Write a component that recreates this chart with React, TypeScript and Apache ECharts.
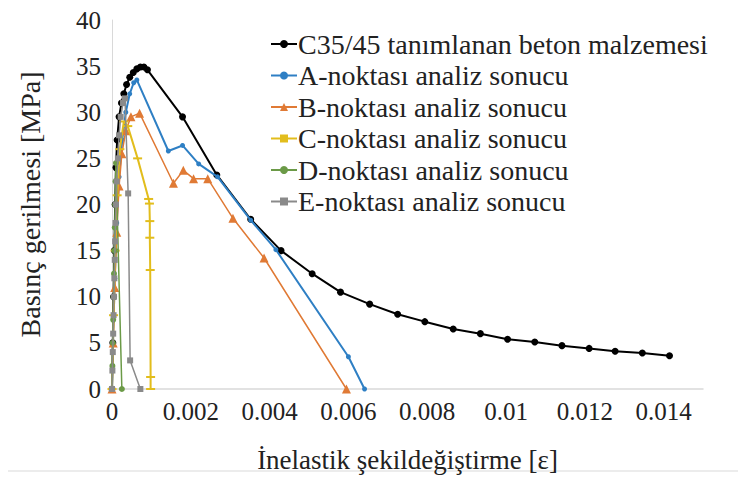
import React, { useEffect, useRef } from "react";
import * as echarts from "echarts";

const seriesNames = [
  "C35/45 tanımlanan beton malzemesi",
  "A-noktası analiz sonucu",
  "B-noktası analiz sonucu",
  "C-noktası analiz sonucu",
  "D-noktası analiz sonucu",
  "E-noktası analiz sonucu",
];

const betonStrain = [0, 0.00002, 0.00004, 0.00006, 0.00008, 0.0001, 0.00013, 0.00018, 0.00024, 0.0003, 0.00037, 0.00045, 0.00054, 0.00063, 0.00072, 0.00081, 0.0009, 0.00179, 0.00266, 0.00352, 0.00429, 0.00508, 0.0058, 0.00654, 0.00725, 0.00794, 0.00866, 0.00935, 0.01004, 0.01073, 0.01142, 0.01211, 0.01277, 0.01346, 0.01415];
const betonStress = [0, 5, 10, 15, 20, 24, 27, 29.5, 31, 32, 33, 33.8, 34.3, 34.7, 34.9, 34.9, 34.6, 29.5, 23.2, 18.4, 15.0, 12.5, 10.5, 9.2, 8.1, 7.3, 6.5, 6.0, 5.4, 5.1, 4.7, 4.4, 4.1, 3.9, 3.6];

const aStrain = [0, 0.00003, 0.00007, 0.00012, 0.00018, 0.00026, 0.00035, 0.00045, 0.00055, 0.00063, 0.00143, 0.00179, 0.0022, 0.00268, 0.00352, 0.00416, 0.006, 0.00641];
const aStress = [0, 6, 12, 18, 23, 27, 30, 32, 33.2, 33.5, 25.8, 26.4, 24.4, 23.0, 18.3, 15.1, 3.5, 0];

const bStrain = [0, 0.00003, 0.00007, 0.00012, 0.00018, 0.00025, 0.00035, 0.00048, 0.0007, 0.00156, 0.00181, 0.00207, 0.00243, 0.00307, 0.00386, 0.00595];
const bStress = [0, 5, 11, 17, 22, 25.5, 28, 29.5, 29.9, 22.3, 23.7, 22.8, 22.8, 18.5, 14.2, 0];

const cStrain = [0, 0.00004, 0.00008, 0.00013, 0.0002, 0.0003, 0.0004, 0.00065, 0.00093, 0.00095, 0.00096, 0.00096, 0.00097, 0.00098, 0.00098];
const cStress = [0, 8, 15, 21, 26, 29, 28.5, 25, 20.6, 20.1, 18.2, 16.4, 12.9, 1.3, 0];

const dStrain = [0, 0.00001, 0.00002, 0.00003, 0.00004, 0.00005, 0.00006, 0.00007, 0.00008, 0.00009, 0.0001, 0.00025];
const dStress = [0, 2.5, 5, 7.5, 10, 12.5, 15, 17.5, 20, 22.5, 24.5, 0];

const eStrain = [0, 0.00001, 0.00002, 0.00003, 0.00004, 0.00005, 0.00006, 0.00007, 0.00008, 0.00009, 0.0001, 0.00012, 0.00015, 0.00018, 0.00022, 0.00028, 0.00033, 0.00041, 0.00046, 0.00072];
const eStress = [0, 2, 4, 6, 8, 10, 12, 14, 16, 18, 20, 22.5, 25, 27.5, 29.5, 31, 31.5, 21.2, 3.1, 0];

const yTitle = "Basınç gerilmesi [MPa]";
const xTitle = "İnelastik şekildeğiştirme [ε]";

const zip = (xs: number[], ys: number[]) => xs.map((x, i) => [x, ys[i]]);

const FONT = "'Liberation Serif', 'Times New Roman', serif";

export default function App() {
  const ref = useRef<HTMLDivElement>(null);
  useEffect(() => {
    if (!ref.current) return;
    const chart = echarts.init(ref.current, undefined, { renderer: "svg" });
    const mk = (
      i: number,
      xs: number[],
      ys: number[],
      color: string,
      symbol: any,
      symbolSize: any,
      width: number
    ) => ({
      name: seriesNames[i],
      type: "line",
      data: zip(xs, ys),
      symbol,
      symbolSize,
      showAllSymbol: true,
      lineStyle: { color, width },
      itemStyle: { color },
      z: 2 + i,
    });
    chart.setOption({
      animation: false,
      textStyle: { fontFamily: FONT },
      grid: { left: 104, right: 43, top: 12, bottom: 88, containLabel: false, outerBoundsMode: "none" },
      graphic: [
        {
          type: "rect",
          silent: true,
          shape: { x: -9, y: -4, width: 742, height: 467 },
          style: { fill: "none", stroke: "#d9d9d9", lineWidth: 1 },
        },
      ],
      legend: {
        orient: "vertical",
        left: 257,
        top: 17,
        itemWidth: 26,
        itemHeight: 10,
        itemGap: 3.5,
        textStyle: { fontFamily: FONT, fontSize: 28, color: "#222", lineHeight: 28, padding: [0, 0, 0, -4] },
        data: seriesNames,
      },
      xAxis: {
        type: "value",
        min: 0,
        max: 0.015,
        interval: 0.001,
        splitLine: { show: false },
        axisTick: { show: false },
        axisLine: { show: true, lineStyle: { color: "#d9d9d9", width: 1.5 } },
        axisLabel: {
          fontFamily: FONT,
          fontSize: 25,
          color: "#222",
          margin: 10,
          showMaxLabel: false,
          formatter: (v: number) => {
            const k = Math.round(v * 1000);
            if (k % 2 !== 0) return "";
            return String(+v.toFixed(3));
          },
        },
        name: xTitle,
        nameLocation: "middle",
        nameGap: 57,
        nameTextStyle: { fontFamily: FONT, fontSize: 27, color: "#222" },
      },
      yAxis: {
        type: "value",
        min: 0,
        max: 40,
        interval: 5,
        splitLine: { show: false },
        axisTick: { show: false },
        axisLine: { show: true, lineStyle: { color: "#d9d9d9", width: 1 } },
        axisLabel: { fontFamily: FONT, fontSize: 25, color: "#222", margin: 11 },
        name: yTitle,
        nameLocation: "middle",
        nameGap: 68,
        nameTextStyle: { fontFamily: FONT, fontSize: 28, color: "#222" },
      },
      series: [
        mk(0, betonStrain, betonStress, "#000000", "circle", 7, 2),
        mk(1, aStrain, aStress, "#2e7fc4", "circle", 5, 2),
        mk(2, bStrain, bStress, "#e07a35", "triangle", 9, 1.5),
        mk(3, cStrain, cStress, "#e2bd1c", "rect", [9, 2], 2),
        mk(4, dStrain, dStress, "#6b9a47", "circle", 6, 1.5),
        mk(5, eStrain, eStress, "#8a8a8a", "rect", 6, 1.5),
      ],
    });
    return () => chart.dispose();
  }, []);
  return <div ref={ref} style={{ width: 738, height: 469 }} />;
}
